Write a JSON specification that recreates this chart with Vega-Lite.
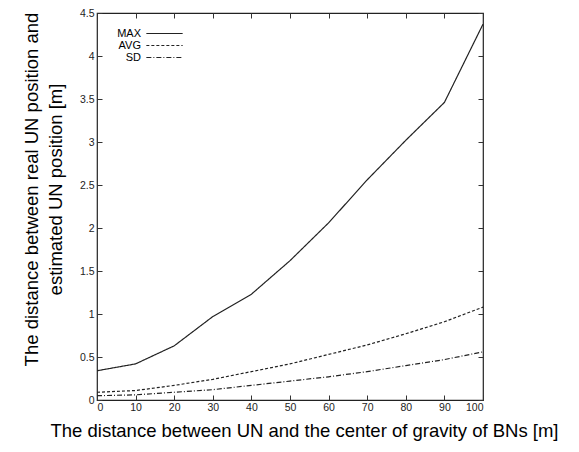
{
  "$schema": "https://vega.github.io/schema/vega-lite/v6.json",
  "width": 386,
  "height": 387,
  "autosize": {"type": "none"},
  "padding": {"left": 97, "top": 13, "right": 96, "bottom": 52},
  "background": "white",
  "config": {
    "font": "Liberation Sans",
    "view": {"stroke": "#222", "strokeWidth": 1.2},
    "axis": {"grid": false, "domain": false, "tickColor": "#333", "tickSize": -5, "labelFont": "Liberation Sans", "labelFontSize": 10.5, "labelColor": "#222", "titleFont": "Liberation Sans", "titleFontWeight": "normal", "titleColor": "#000"}
  },
  "data": {"values": [
    {"x": 0, "series": "MAX", "v": 0.34}, {"x": 10, "series": "MAX", "v": 0.42}, {"x": 20, "series": "MAX", "v": 0.63}, {"x": 30, "series": "MAX", "v": 0.97}, {"x": 40, "series": "MAX", "v": 1.23}, {"x": 50, "series": "MAX", "v": 1.62}, {"x": 60, "series": "MAX", "v": 2.06}, {"x": 70, "series": "MAX", "v": 2.56}, {"x": 80, "series": "MAX", "v": 3.02}, {"x": 90, "series": "MAX", "v": 3.46}, {"x": 100, "series": "MAX", "v": 4.37},
    {"x": 0, "series": "AVG", "v": 0.09}, {"x": 10, "series": "AVG", "v": 0.11}, {"x": 20, "series": "AVG", "v": 0.17}, {"x": 30, "series": "AVG", "v": 0.24}, {"x": 40, "series": "AVG", "v": 0.33}, {"x": 50, "series": "AVG", "v": 0.42}, {"x": 60, "series": "AVG", "v": 0.53}, {"x": 70, "series": "AVG", "v": 0.64}, {"x": 80, "series": "AVG", "v": 0.77}, {"x": 90, "series": "AVG", "v": 0.91}, {"x": 100, "series": "AVG", "v": 1.08},
    {"x": 0, "series": "SD", "v": 0.05}, {"x": 10, "series": "SD", "v": 0.06}, {"x": 20, "series": "SD", "v": 0.09}, {"x": 30, "series": "SD", "v": 0.12}, {"x": 40, "series": "SD", "v": 0.17}, {"x": 50, "series": "SD", "v": 0.22}, {"x": 60, "series": "SD", "v": 0.27}, {"x": 70, "series": "SD", "v": 0.33}, {"x": 80, "series": "SD", "v": 0.40}, {"x": 90, "series": "SD", "v": 0.47}, {"x": 100, "series": "SD", "v": 0.56}
  ]},
  "resolve": {"axis": {"x": "independent", "y": "independent"}},
  "layer": [
    {
      "mark": {"type": "line", "color": "#222", "strokeWidth": 1.2},
      "encoding": {
        "x": {"field": "x", "type": "quantitative", "scale": {"domain": [0, 100], "nice": false},
              "axis": {"orient": "bottom", "values": [0,10,20,30,40,50,60,70,80,90,100], "labelPadding": 7, "title": "The distance between UN and the center of gravity of BNs [m]", "titleFontSize": 18.5, "titlePadding": 9, "titleX": 207}},
        "y": {"field": "v", "type": "quantitative", "scale": {"domain": [0, 4.5], "nice": false},
              "axis": {"orient": "left", "values": [0,0.5,1,1.5,2,2.5,3,3.5,4,4.5], "format": "~g", "labelPadding": 8, "title": ["The distance between real UN position and", "estimated UN position [m]"], "titleFontSize": 18.5, "titlePadding": 14, "titleLineHeight": 24, "titleY": 176}},
        "strokeDash": {"field": "series", "type": "nominal",
              "scale": {"domain": ["MAX", "AVG", "SD"], "range": [[1, 0], [3, 2], [5, 2, 1, 2]]},
              "legend": {"title": null, "orient": "none", "legendX": 61, "legendY": 14, "symbolType": "M-3.3,0H3.3", "symbolSize": 121, "symbolStrokeColor": "#222", "symbolStrokeWidth": 1.2, "labelAlign": "right", "labelOffset": -30, "labelFontSize": 11, "labelColor": "#000", "rowPadding": -0.5}}
      }
    },
    {
      "mark": {"type": "point", "opacity": 0},
      "encoding": {
        "x": {"field": "x", "type": "quantitative", "axis": {"orient": "top", "values": [0,10,20,30,40,50,60,70,80,90,100], "labels": false, "title": null}},
        "y": {"field": "v", "type": "quantitative", "axis": {"orient": "right", "values": [0,0.5,1,1.5,2,2.5,3,3.5,4,4.5], "labels": false, "title": null}}
      }
    }
  ]
}
